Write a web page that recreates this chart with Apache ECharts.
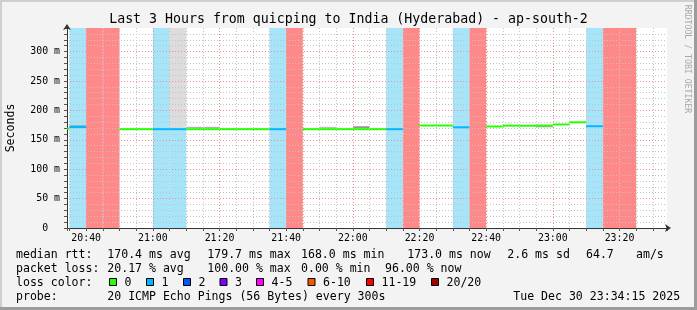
<!DOCTYPE html>
<html><head><meta charset="utf-8">
<script src="https://cdn.jsdelivr.net/npm/echarts@6/dist/echarts.min.js"></script>
<style>html,body{margin:0;padding:0;background:#f3f3f3}#c{width:697px;height:310px}</style>
</head><body><div id="c"></div>
<script>
// ---------------- data ----------------
const titleText = 'Last 3 Hours from quicping to India (Hyderabad) - ap-south-2';
const yAxisName = 'Seconds';
const sideText = 'RRDTOOL / TOBI OETIKER';
// 5-minute slots: start time, loss bucket (0 = no loss, 1 = 1/20, 20 = 20/20), median rtt (ms)
const slotStarts = ['20:30','20:35','20:40','20:45','20:50','20:55','21:00','21:05','21:10','21:15',
  '21:20','21:25','21:30','21:35','21:40','21:45','21:50','21:55','22:00','22:05',
  '22:10','22:15','22:20','22:25','22:30','22:35','22:40','22:45','22:50','22:55',
  '23:00','23:05','23:10','23:15','23:20'];
const slotLoss = [0,1,20,20,0,0,1,1,0,0, 0,0,0,1,20,0,0,0,0,0, 1,20,0,0,1,20,0,0,0,0, 0,0,1,20,20];
const slotMedian = [169.0,171.5,null,null,168.0,168.0,168.0,168.0,168.0,168.0,
  168.0,168.0,168.0,168.0,null,168.0,168.0,168.0,168.0,168.0,
  168.0,null,174.2,174.2,171.2,null,172.6,174.0,173.8,174.2,
  176.0,179.7,173.0,null,null];
// smoke (ping spread) per slot: start, low, high, shade
const smokeStarts = ['20:35','21:05','21:10','21:15','21:50','22:00','22:55'];
const smokeLow    = [172.2, 171.0, 170.3, 170.3, 170.3, 170.3, 171.4];
const smokeHigh   = [174.2, 345.0, 172.0, 172.0, 172.0, 172.8, 172.6];
const smokeShade  = ['#808080','#dcdcdc','#a0a0a0','#a0a0a0','#b0b0b0','#808080','#606060'];
const axisStart = '20:34:15', axisEnd = '23:34:15';
const yMax = 340;
// legend texts
const rttLabel = 'median rtt:';
const rttStats = ['170.4 ms avg','179.7 ms max','168.0 ms min','173.0 ms now','2.6 ms sd','64.7','am/s'];
const lossLabel = 'packet loss:';
const lossStats = ['20.17 % avg','100.00 % max','0.00 % min','96.00 % now'];
const colorLabel = 'loss color:';
const lossLegendLabels = ['0','1','2','3','4-5','6-10','11-19','20/20'];
const lossLegendColors = ['#26ff00','#00b8ff','#0059ff','#7e00ff','#ff00ff','#ff5500','#ff0000','#a10000'];
const probeLabel = 'probe:';
const probeText = '20 ICMP Echo Pings (56 Bytes) every 300s';
const dateText = 'Tue Dec 30 23:34:15 2025';

// ---------------- helpers ----------------
function toMin(s){const p=s.split(':').map(Number);return p[0]*60+p[1]+(p[2]||0)/60;}
const lineColorOf = {0:'#26ff00',1:'#00b8ff',20:'#a10000'};
const bandColorOf = {1:'#a6e4fa',20:'#ff8888'};
const FONT = "'DejaVu Sans Mono', monospace";
const xMin = toMin(axisStart), xMax = toMin(axisEnd);

const bandData = [], medianData = [];
slotStarts.forEach((s,i)=>{
  const a = toMin(s), b = a + 5;
  if (slotLoss[i] > 0) bandData.push([a,b,slotLoss[i]]);
  if (slotMedian[i] != null) medianData.push([a,b,slotMedian[i],slotLoss[i]]);
});
const smokeData = smokeStarts.map((s,i)=>[toMin(s),toMin(s)+5,smokeLow[i],smokeHigh[i],i]);

function clipX(x0,x1,cs){return [Math.max(x0,cs.x),Math.min(x1,cs.x+cs.width)];}

// ---------------- layout of text blocks ----------------
const GL = {left:67, top:28, width:600, height:200};
const colX = [107.3,207.3,301,407.3,507.3,586,636];
const lossColX = [107.3,207.3,301,385];
const swatchX = [109,146,183,219.5,256,307.5,366,431];
const rowY = [254.5,268.5,282.5,296.5];
const txt = (x,y,t,extra)=>Object.assign({type:'text',x:x,y:y,silent:true,style:{text:t,font:'11.55px '+FONT,fill:'#000',verticalAlign:'middle',align:'left'}},extra||{});

const graphics = [];
// frame
graphics.push({type:'rect',shape:{x:0,y:0,width:697,height:2},style:{fill:'#cfcfcf'},silent:true});
graphics.push({type:'rect',shape:{x:0,y:0,width:2,height:310},style:{fill:'#cfcfcf'},silent:true});
graphics.push({type:'rect',shape:{x:694,y:0,width:3,height:310},style:{fill:'#9c9c9c'},silent:true});
graphics.push({type:'rect',shape:{x:0,y:307,width:697,height:3},style:{fill:'#9c9c9c'},silent:true});
graphics.push(txt(16,rowY[0],rttLabel));
rttStats.forEach((t,i)=>graphics.push(txt(colX[i],rowY[0],t)));
graphics.push(txt(16,rowY[1],lossLabel));
lossStats.forEach((t,i)=>graphics.push(txt(lossColX[i],rowY[1],t)));
graphics.push(txt(16,rowY[2],colorLabel));
lossLegendLabels.forEach((t,i)=>{
  graphics.push({type:'rect',silent:true,shape:{x:swatchX[i]+0.5,y:rowY[2]-4,width:7,height:7},style:{fill:lossLegendColors[i],stroke:'#000',lineWidth:1}});
  graphics.push(txt(swatchX[i]+15.5,rowY[2],t));
});
graphics.push(txt(16,rowY[3],probeLabel));
graphics.push(txt(107.3,rowY[3],probeText));
graphics.push(txt(513.3,rowY[3],dateText));
graphics.push({type:'text',silent:true,x:687.5,y:59,rotation:-Math.PI/2,style:{text:sideText,font:'8.2px '+FONT,fill:'#a8a8a8',align:'center',verticalAlign:'middle'}});
graphics.push({type:'text',silent:true,x:10.5,y:128,rotation:Math.PI/2,style:{text:yAxisName,font:'11.55px '+FONT,fill:'#000',align:'center',verticalAlign:'middle'}});

const pad2 = n => (n<10?'0':'')+n;
const chart = echarts.init(document.getElementById('c'), null, {renderer:'canvas'});
chart.setOption({
  animation:false,
  backgroundColor:'#f3f3f3',
  title:{text:titleText,left:'center',top:13,padding:0,textStyle:{fontFamily:FONT,fontSize:13.25,fontWeight:'normal',color:'#000'}},
  grid:{left:GL.left,top:GL.top,width:GL.width,height:GL.height,show:true,backgroundColor:'#ffffff',borderWidth:0},
  xAxis:{type:'value',min:xMin,max:xMax,splitNumber:9,z:5,
    axisLine:{show:true,onZero:false,symbol:['none','arrow'],symbolSize:[6,6],symbolOffset:[0,4],lineStyle:{color:'#333',width:1}},
    axisTick:{show:true,length:3,lineStyle:{color:'#555'}},
    minorTick:{show:true,splitNumber:4,length:3,lineStyle:{color:'#555'}},
    axisLabel:{showMinLabel:false,showMaxLabel:false,margin:5,fontFamily:FONT,fontSize:9.9,color:'#000',
      formatter:v=>pad2(Math.floor(v/60))+':'+pad2(Math.round(v%60))},
    splitLine:{show:true,showMinLine:false,showMaxLine:false,lineStyle:{color:'#e89090',type:[1,2],width:1}},
    minorSplitLine:{show:true,lineStyle:{color:'#c4c4c4',type:[1,2],width:1}}
  },
  yAxis:{type:'value',min:0,max:yMax,splitNumber:7,z:5,
    axisLine:{show:true,symbol:['none','arrow'],symbolSize:[6,6],symbolOffset:[0,4],lineStyle:{color:'#333',width:1}},
    axisTick:{show:true,length:3,lineStyle:{color:'#555'}},
    minorTick:{show:true,splitNumber:5,length:3,lineStyle:{color:'#555'}},
    axisLabel:{showMaxLabel:false,margin:7,fontFamily:FONT,fontSize:9.9,color:'#000',
      formatter:v=>v===0?'0  ':v+' m'},
    splitLine:{show:true,showMinLine:false,showMaxLine:false,lineStyle:{color:'#e89090',type:[1,2],width:1}},
    minorSplitLine:{show:true,lineStyle:{color:'#c4c4c4',type:[1,2],width:1}}
  },
  graphic:graphics,
  series:[
    {type:'custom',name:'loss bands',z:1,silent:true,data:bandData,encode:{x:[0,1],y:2},
      renderItem:(params,api)=>{
        const cs=params.coordSys;
        const a=api.coord([api.value(0),yMax]), b=api.coord([api.value(1),0]);
        const xs=clipX(a[0],b[0],cs);
        return {type:'rect',shape:{x:xs[0],y:a[1],width:xs[1]-xs[0],height:b[1]-a[1]},style:{fill:bandColorOf[api.value(2)]}};
      }},
    {type:'custom',name:'smoke',z:1,silent:true,data:smokeData,encode:{x:[0,1],y:[2,3]},
      renderItem:(params,api)=>{
        const cs=params.coordSys;
        const hi=Math.min(api.value(3),yMax);
        const a=api.coord([api.value(0),hi]), b=api.coord([api.value(1),api.value(2)]);
        const xs=clipX(a[0],b[0],cs);
        return {type:'rect',shape:{x:xs[0],y:a[1],width:xs[1]-xs[0],height:b[1]-a[1]},style:{fill:smokeShade[api.value(4)]}};
      }},
    {type:'custom',name:'median',z:10,silent:true,data:medianData,encode:{x:[0,1],y:2},
      renderItem:(params,api)=>{
        const cs=params.coordSys;
        const a=api.coord([api.value(0),api.value(2)]), b=api.coord([api.value(1),api.value(2)]);
        const xs=clipX(a[0],b[0],cs);
        return {type:'line',shape:{x1:xs[0],y1:a[1],x2:xs[1],y2:a[1]},style:{stroke:lineColorOf[api.value(3)],lineWidth:2}};
      }}
  ]
});
</script></body></html>
